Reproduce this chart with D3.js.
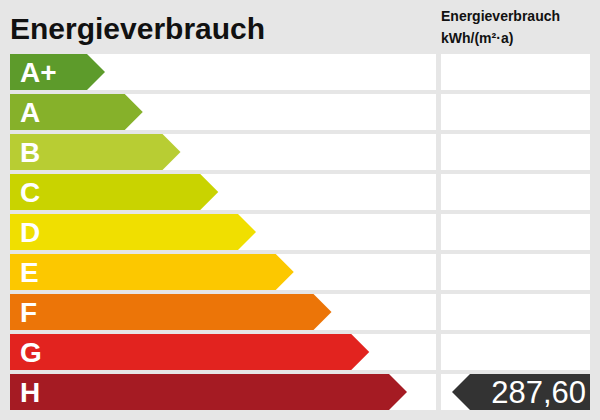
<!DOCTYPE html>
<html><head><meta charset="utf-8">
<script src="https://cdn.jsdelivr.net/npm/d3@7"></script>
<style>body{margin:0;background:#e6e6e6}</style></head>
<body><svg id="c" width="600" height="420"></svg>
<script>
const classes = ["A+","A","B","C","D","E","F","G","H"];
const colors = ["#5d9b2b","#86b12a","#b8cd33","#c9d300","#f0df00","#fcc800","#ec7508","#e2231f","#a51b23"];
const value = 287.60;
const valueClass = "H";
const title = "Energieverbrauch";
const unitLines = ["Energieverbrauch","kWh/(m²·a)"];

const svg = d3.select("#c");
svg.append("rect").attr("width",600).attr("height",420).attr("fill","#e6e6e6");
const y = d3.scaleBand().domain(classes).range([52,412]).paddingInner(4/40).paddingOuter(0.05);
const tip = d3.scaleLinear().domain([0,classes.length-1]).range([105,407]);
const font = "Liberation Sans, Arial, sans-serif";

svg.append("text").attr("x",10).attr("y",39).attr("font-family",font).attr("font-weight","bold")
  .attr("font-size",30).attr("fill","#111").text(title);
unitLines.forEach((t,i)=>svg.append("text").attr("x",441).attr("y",21+i*22).attr("font-family",font)
  .attr("font-weight","bold").attr("font-size",14).attr("fill","#111").text(t));

const g = svg.selectAll("g.row").data(classes).join("g");
g.append("rect").attr("x",10).attr("y",d=>y(d)).attr("width",426).attr("height",y.bandwidth()).attr("fill","#fff");
g.append("rect").attr("x",441).attr("y",d=>y(d)).attr("width",149).attr("height",y.bandwidth()).attr("fill","#fff");
g.append("path").attr("fill",(d,i)=>colors[i]).attr("d",(d,i)=>{
  const t=tip(i), y0=y(d), h=y.bandwidth();
  return `M10,${y0}H${t-h/2}L${t},${y0+h/2}L${t-h/2},${y0+h}H10Z`;});
g.append("text").attr("x",20).attr("y",d=>y(d)+y.bandwidth()/2+10).attr("font-family",font)
  .attr("font-weight","bold").attr("font-size",28).attr("fill","#fff").text(d=>d);

const vy=y(valueClass), h=y.bandwidth();
svg.append("path").attr("fill","#333").attr("d",`M452,${vy+h/2}L${452+h/2},${vy}H590V${vy+h}H${452+h/2}Z`);
svg.append("text").attr("x",586).attr("y",vy+h/2+11).attr("text-anchor","end").attr("font-family",font)
  .attr("font-size",31).attr("fill","#fff").text(value.toFixed(2).replace(".",","));
</script></body></html>
